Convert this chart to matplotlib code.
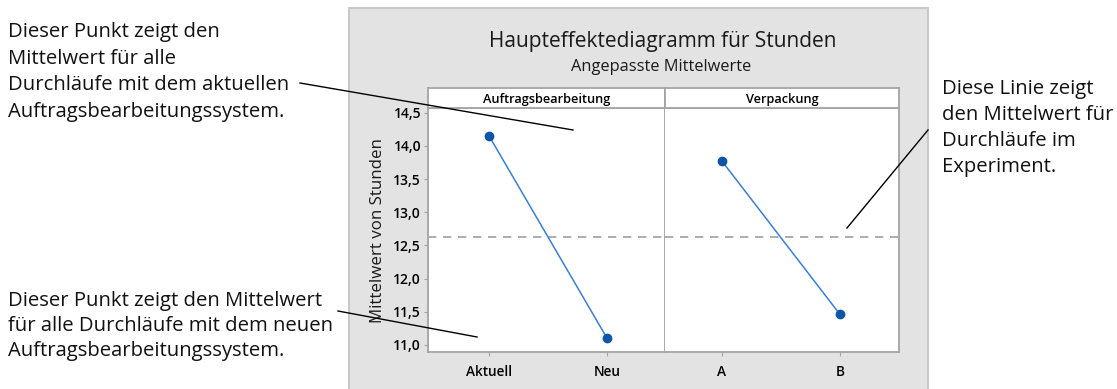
import matplotlib
matplotlib.use("Agg")
import matplotlib.pyplot as plt
from matplotlib.patches import Rectangle
from matplotlib.lines import Line2D

# Fitted means of "Stunden" per factor level
factors = ["Auftragsbearbeitung", "Verpackung"]
levels = [["Aktuell", "Neu"], ["A", "B"]]
means = [[14.15, 11.10], [13.77, 11.46]]
grand_mean = 12.62
yticks = [11.0, 11.5, 12.0, 12.5, 13.0, 13.5, 14.0, 14.5]

W, H = 1117, 389
fig = plt.figure(figsize=(W / 100, H / 100), dpi=100)
fig.patch.set_facecolor("white")

def fx(px):
    return px / W

def fy(py):
    return 1 - py / H

# grey chart background on its own bottom layer
base = fig.add_axes([0, 0, 1, 1], zorder=-5)
base.set_xlim(0, W)
base.set_ylim(H, 0)
base.axis("off")
base.add_patch(Rectangle((349, 8), 579, 390, facecolor="#e3e3e3",
                         edgecolor="#c8c8c8", linewidth=1.5))

ui_font = "Open Sans"
note_font = "Open Sans"
frame_col = "#a4a4a4"
line_col = "#3a7fd0"
mark_col = "#0b56a8"

fig.text(fx(663), fy(42), "Haupteffektediagramm für Stunden", ha="center", va="center",
         fontsize=15, family=ui_font, color="#1a1a1a")
fig.text(fx(661), fy(67), "Angepasste Mittelwerte", ha="center", va="center",
         fontsize=11.8, family=ui_font, color="#1a1a1a")

panels = [(428, 665, (-0.517, 1.49)), (665, 899, (-0.483, 1.5))]
top, bottom = 108.3, 352.3
ylim = (10.89, 14.566)

for i, (x0, x1, xl) in enumerate(panels):
    ax = fig.add_axes([fx(x0), fy(bottom), fx(x1) - fx(x0), fy(top) - fy(bottom)])
    ax.set_facecolor("white")
    xs = list(range(len(levels[i])))
    ax.axhline(grand_mean, color="#a0a0a0", linestyle=(0, (5, 4)), linewidth=1.2, zorder=1)
    ax.plot(xs, means[i], color=line_col, linewidth=1.1, zorder=2)
    ax.plot(xs, means[i], "o", color=mark_col, markersize=6, zorder=3)
    ax.set_xlim(*xl)
    ax.set_ylim(*ylim)
    ax.set_xticks(xs)
    ax.set_xticklabels(levels[i], family=ui_font, fontsize=9.8, fontweight="semibold")
    for s in ax.spines.values():
        s.set_color(frame_col)
        s.set_linewidth(1.3)
    ax.tick_params(axis="x", length=3, color=frame_col, pad=6)
    if i == 0:
        ax.set_yticks(yticks)
        ax.set_yticklabels([f"{v:.1f}".replace(".", ",") for v in yticks],
                           family=ui_font, fontsize=10, fontweight="semibold")
        ax.tick_params(axis="y", length=3, color=frame_col, pad=2)
        ax.set_ylabel("Mittelwert von Stunden", family=ui_font, fontsize=12.2,
                      color="#1a1a1a", labelpad=5)
    else:
        ax.set_yticks([])
        ax.spines["left"].set_visible(False)
    # facet strip
    sx = fig.add_axes([fx(x0), fy(top), fx(x1) - fx(x0), fy(88.3) - fy(top)])
    sx.set_facecolor("white")
    sx.set_xticks([])
    sx.set_yticks([])
    for s in sx.spines.values():
        s.set_color(frame_col)
        s.set_linewidth(1.3)
    sx.text(0.5, 0.45, factors[i], transform=sx.transAxes, ha="center", va="center",
            family=ui_font, fontsize=9.2, fontweight="semibold")

# explanatory notes with leader lines
note_kw = dict(family=note_font, fontsize=14.6, color="#111111", va="center", ha="left")
fig.text(fx(8), fy(72), "Dieser Punkt zeigt den\nMittelwert für alle\nDurchläufe mit dem aktuellen\nAuftragsbearbeitungssystem.",
         linespacing=1.46, **note_kw)
fig.text(fx(8), fy(326), "Dieser Punkt zeigt den Mittelwert\nfür alle Durchläufe mit dem neuen\nAuftragsbearbeitungssystem.",
         linespacing=1.34, **note_kw)
fig.text(fx(942), fy(128), "Diese Linie zeigt\nden Mittelwert für\nDurchläufe im\nExperiment.",
         linespacing=1.42, **note_kw)

overlay = fig.add_axes([0, 0, 1, 1], zorder=10)
overlay.set_xlim(0, W)
overlay.set_ylim(H, 0)
overlay.axis("off")
overlay.patch.set_alpha(0)
for (xa, ya), (xb, yb) in [((300, 83), (573, 130)), ((338, 311), (477, 337)), ((928, 130), (847, 228))]:
    overlay.add_line(Line2D([xa, xb], [ya, yb], color="black", linewidth=1.0))

fig.savefig("out.png", dpi=100)
